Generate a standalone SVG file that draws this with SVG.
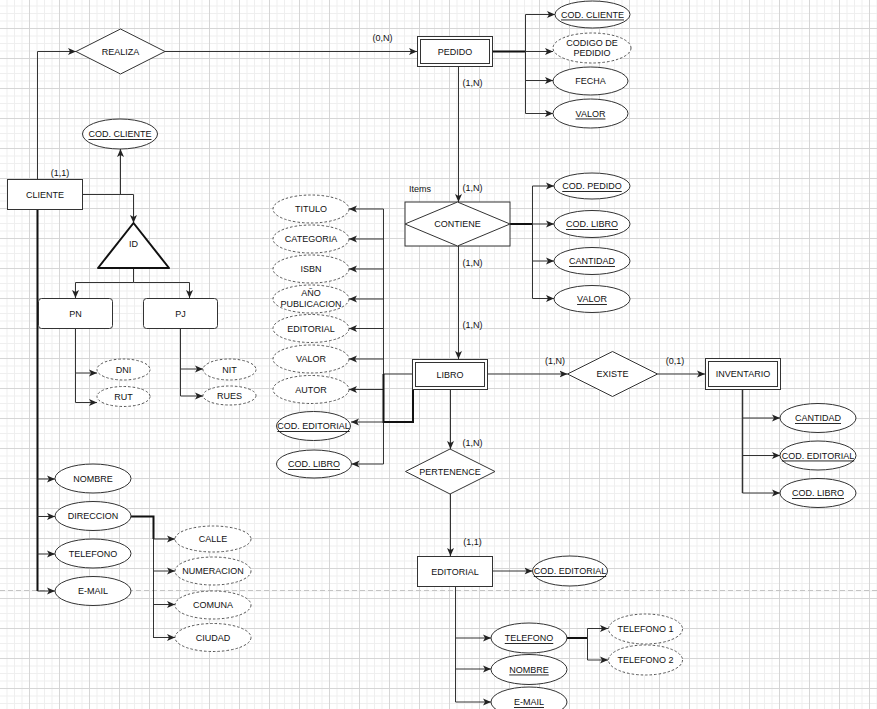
<svg xmlns="http://www.w3.org/2000/svg" width="877" height="709" viewBox="0 0 877 709">
<defs>
<pattern id="grid" x="29" y="28" width="30" height="30" patternUnits="userSpaceOnUse">
<path d="M8,0V30M15.5,0V30M23,0V30M0,8H30M0,15.5H30M0,23H30" stroke="#efefef" stroke-width="1" fill="none"/>
<path d="M0.5,0V30M0,0.5H30" stroke="#d6d6d6" stroke-width="1" fill="none"/>
</pattern>
<marker id="arr" markerUnits="userSpaceOnUse" markerWidth="9" markerHeight="8" refX="8" refY="4" orient="auto">
<path d="M0,0.5 L8,4 L0,7.5 L2,4 Z" fill="#222"/>
</marker>
<style>
text{font-family:"Liberation Sans",Arial,sans-serif;font-size:9px;fill:#111;text-anchor:middle;dominant-baseline:central}
.u{text-decoration:underline}
.sh{fill:#fff;stroke:#333;stroke-width:1}
.dsh{fill:#fff;stroke:#555;stroke-width:1;stroke-dasharray:2.5 2}
.ln{fill:none;stroke:#333;stroke-width:1}
.th{fill:none;stroke:#111;stroke-width:2}
.a{marker-end:url(#arr)}
.lbl{text-anchor:middle}
</style>
</defs>
<rect width="877" height="709" fill="#fff"/>
<rect width="877" height="709" fill="url(#grid)"/>
<path d="M0,590.5H877" stroke="#c4c4c4" stroke-width="1" stroke-dasharray="5 3" fill="none"/>

<g id="connectors">
<path class="ln a" d="M37.5,179.5V51.5H76"/>
<path class="ln a" d="M165,51.5H417"/>
<path class="ln a" d="M82.5,194.5H120.5V149"/>
<path class="ln a" d="M82.5,194.5H133.5V223"/>
<path class="ln a" d="M133.5,268V282.5H75.5V298"/>
<path class="ln a" d="M133.5,282.5H189.5V298"/>
<path class="ln a" d="M75.5,328.5V373H97"/>
<path class="ln a" d="M75.5,373V402.5H97"/>
<path class="ln a" d="M180.5,328.5V369H203"/>
<path class="ln a" d="M180.5,369V396H203"/>
<path class="th" d="M37.5,209.5V591"/>
<path class="ln a" d="M37.5,479H55"/>
<path class="ln a" d="M37.5,516.5H55"/>
<path class="ln a" d="M37.5,554H55"/>
<path class="ln a" d="M37.5,591H55"/>
<path class="th" d="M131,516.5H153.5V539"/>
<path class="ln" d="M153.5,539V638"/>
<path class="ln a" d="M153.5,539H175"/>
<path class="ln a" d="M153.5,571H175"/>
<path class="ln a" d="M153.5,604.5H175"/>
<path class="ln a" d="M153.5,637.5H175"/>
<path class="th" d="M492.5,51.5H525.5"/>
<path class="ln" d="M525.5,14.5V113.5"/>
<path class="ln a" d="M525.5,14.5H555"/>
<path class="ln a" d="M525.5,51.5H553"/>
<path class="ln a" d="M525.5,80.5H553"/>
<path class="ln a" d="M525.5,113.5H553"/>
<path class="ln a" d="M458.5,67V202"/>
<path class="th" d="M510,224H532.5"/>
<path class="ln" d="M532.5,186V298.5"/>
<path class="ln a" d="M532.5,186H554"/>
<path class="ln a" d="M532.5,224H554"/>
<path class="ln a" d="M532.5,261H554"/>
<path class="ln a" d="M532.5,298.5H554"/>
<path class="ln a" d="M458.5,246V359"/>
<path class="ln" d="M412,374H383.5"/>
<path class="ln" d="M383.5,209V464"/>
<path class="ln a" d="M383.5,209H349"/>
<path class="ln a" d="M383.5,239H349"/>
<path class="ln a" d="M383.5,269H349"/>
<path class="ln a" d="M383.5,299H349"/>
<path class="ln a" d="M383.5,328.5H349"/>
<path class="ln a" d="M383.5,359H349"/>
<path class="ln a" d="M383.5,389.5H349"/>
<path class="th" d="M413,389V422H383.5V374"/>
<path class="ln a" d="M383.5,422H351"/>
<path class="ln a" d="M383.5,464H351.5"/>
<path class="ln a" d="M488,374H567.5"/>
<path class="ln a" d="M657.5,374H705"/>
<path class="ln" d="M742.5,389.5V493" style="stroke-width:1.5"/>
<path class="ln a" d="M742.5,418H780"/>
<path class="ln a" d="M742.5,455.5H780"/>
<path class="ln a" d="M742.5,493H780"/>
<path class="ln a" d="M450.5,389.5V449"/>
<path class="ln a" d="M450.5,494V556"/>
<path class="ln a" d="M492.5,571H532.5"/>
<path class="ln" d="M455.5,586.5V702"/>
<path class="ln a" d="M455.5,638H491"/>
<path class="ln a" d="M455.5,669H491"/>
<path class="ln a" d="M455.5,702H491"/>
<path class="th" d="M567,638H587.5"/>
<path class="ln" d="M587.5,628.5V660"/>
<path class="ln a" d="M587.5,628.5H608"/>
<path class="ln a" d="M587.5,660H608"/>
<text x="382.5" y="38">(0,N)</text>
<text x="60" y="173">(1,1)</text>
<text x="472.5" y="83">(1,N)</text>
<text x="420" y="189">Items</text>
<text x="472.5" y="188">(1,N)</text>
<text x="472.5" y="263">(1,N)</text>
<text x="472.5" y="325">(1,N)</text>
<text x="555" y="361">(1,N)</text>
<text x="675" y="361">(0,1)</text>
<text x="472.5" y="443">(1,N)</text>
<text x="472.5" y="542">(1,1)</text>
</g>

<g id="realiza"><polygon class="sh" points="76,51.5 120.5,29 165,51.5 120.5,74"/><text x="120.5" y="51.5">REALIZA</text></g>
<g id="pedido"><rect class="sh" x="417.5" y="36.5" width="75" height="30"/><rect class="sh" x="420.5" y="39.5" width="69" height="24"/><text x="455" y="51.5">PEDIDO</text></g>
<g id="cliente"><rect class="sh" x="7.5" y="179.5" width="75" height="30"/><text x="45" y="194.5">CLIENTE</text></g>
<g id="cliente-cod"><ellipse class="sh" cx="120" cy="134" rx="37.5" ry="15"/><text class="u" x="120" y="134">COD. CLIENTE</text></g>
<g id="id"><path d="M133.5,223L169,268H98Z" fill="#fff" stroke="#111" stroke-width="2" stroke-linejoin="round"/><text x="133.5" y="244">ID</text></g>
<g id="pn"><rect class="sh" x="38.5" y="298.5" width="74" height="30" rx="3"/><text x="75.5" y="313.5">PN</text></g>
<g id="pj"><rect class="sh" x="143.5" y="298.5" width="74" height="30" rx="3"/><text x="180.5" y="313.5">PJ</text></g>
<g id="dni"><ellipse class="dsh" cx="123.5" cy="369.5" rx="26.5" ry="10.5"/><text x="123.5" y="369.5">DNI</text></g>
<g id="rut"><ellipse class="dsh" cx="123.5" cy="396.5" rx="26.5" ry="10"/><text x="123.5" y="396.5">RUT</text></g>
<g id="nit"><ellipse class="dsh" cx="229.5" cy="369.5" rx="26.5" ry="10.5"/><text x="229.5" y="369.5">NIT</text></g>
<g id="rues"><ellipse class="dsh" cx="229.5" cy="395.5" rx="26.5" ry="9.5"/><text x="229.5" y="395.5">RUES</text></g>
<g id="cli-nombre"><ellipse class="sh" cx="93" cy="478.5" rx="38" ry="14.5"/><text x="93" y="478.5">NOMBRE</text></g>
<g id="cli-direccion"><ellipse class="sh" cx="93" cy="516" rx="38" ry="14.5"/><text x="93" y="516">DIRECCION</text></g>
<g id="cli-telefono"><ellipse class="sh" cx="93" cy="553.5" rx="38" ry="14.5"/><text x="93" y="553.5">TELEFONO</text></g>
<g id="cli-email"><ellipse class="sh" cx="93" cy="591" rx="38" ry="14.5"/><text x="93" y="591">E-MAIL</text></g>
<g id="calle"><ellipse class="dsh" cx="213" cy="539" rx="38" ry="13"/><text x="213" y="539">CALLE</text></g>
<g id="numeracion"><ellipse class="dsh" cx="213" cy="571" rx="38" ry="14"/><text x="213" y="571">NUMERACION</text></g>
<g id="comuna"><ellipse class="dsh" cx="213" cy="605" rx="38" ry="14"/><text x="213" y="605">COMUNA</text></g>
<g id="ciudad"><ellipse class="dsh" cx="213" cy="637.5" rx="38" ry="14"/><text x="213" y="637.5">CIUDAD</text></g>
<g id="ped-codcliente"><ellipse class="sh" cx="592.5" cy="14.5" rx="37.5" ry="13.5"/><text class="u" x="592.5" y="14.5">COD. CLIENTE</text></g>
<g id="ped-codigo"><ellipse class="dsh" cx="592" cy="48" rx="39" ry="15"/><text x="592" y="42.5">CODIGO DE</text><text x="592" y="53">PEDIDIO</text></g>
<g id="ped-fecha"><ellipse class="sh" cx="590.5" cy="81" rx="37.5" ry="14"/><text x="590.5" y="81">FECHA</text></g>
<g id="ped-valor"><ellipse class="sh" cx="590.5" cy="113.5" rx="37.5" ry="14.5"/><text class="u" x="590.5" y="113.5">VALOR</text></g>
<g id="contiene"><rect class="sh" x="405" y="202" width="105" height="44"/><polygon class="sh" points="405,224 457.5,202 510,224 457.5,246"/><text x="457.5" y="224">CONTIENE</text></g>
<g id="con-codpedido"><ellipse class="sh" cx="592" cy="186" rx="38" ry="13"/><text class="u" x="592" y="186">COD. PEDIDO</text></g>
<g id="con-codlibro"><ellipse class="sh" cx="592" cy="224" rx="38" ry="13.5"/><text class="u" x="592" y="224">COD. LIBRO</text></g>
<g id="con-cantidad"><ellipse class="sh" cx="592" cy="261" rx="38" ry="13.5"/><text class="u" x="592" y="261">CANTIDAD</text></g>
<g id="con-valor"><ellipse class="sh" cx="592" cy="299" rx="38" ry="13.5"/><text class="u" x="592" y="299">VALOR</text></g>
<g id="libro"><rect class="sh" x="412.5" y="359.5" width="75" height="30"/><rect class="sh" x="415.5" y="362.5" width="69" height="24"/><text x="450" y="374.5">LIBRO</text></g>
<g id="lib-titulo"><ellipse class="dsh" cx="311" cy="209" rx="38" ry="14"/><text x="311" y="209">TITULO</text></g>
<g id="lib-categoria"><ellipse class="dsh" cx="311" cy="239" rx="38" ry="14"/><text x="311" y="239">CATEGORIA</text></g>
<g id="lib-isbn"><ellipse class="dsh" cx="311" cy="269" rx="38" ry="14"/><text x="311" y="269">ISBN</text></g>
<g id="lib-anio"><ellipse class="dsh" cx="311" cy="299" rx="38" ry="14"/><text x="311" y="292.5">AÑO</text><text x="311" y="303.5">PUBLICACION</text></g>
<g id="lib-editorial"><ellipse class="dsh" cx="311" cy="328.5" rx="38" ry="14"/><text x="311" y="328.5">EDITORIAL</text></g>
<g id="lib-valor"><ellipse class="dsh" cx="311" cy="359" rx="38" ry="14"/><text x="311" y="359">VALOR</text></g>
<g id="lib-autor"><ellipse class="dsh" cx="311" cy="389.5" rx="38" ry="14"/><text x="311" y="389.5">AUTOR</text></g>
<g id="lib-codeditorial"><ellipse class="sh" cx="313.5" cy="426" rx="37" ry="14.5"/><text class="u" x="313.5" y="426">COD. EDITORIAL</text></g>
<g id="lib-codlibro"><ellipse class="sh" cx="314" cy="464" rx="37.5" ry="14"/><text class="u" x="314" y="464">COD. LIBRO</text></g>
<g id="existe"><polygon class="sh" points="567.5,374 612.5,351.5 657.5,374 612.5,396.5"/><text x="612.5" y="374">EXISTE</text></g>
<g id="inventario"><rect class="sh" x="705.5" y="358.5" width="75" height="31"/><rect class="sh" x="708.5" y="361.5" width="69" height="25"/><text x="743" y="374">INVENTARIO</text></g>
<g id="inv-cantidad"><ellipse class="sh" cx="818" cy="418" rx="38" ry="14.5"/><text class="u" x="818" y="418">CANTIDAD</text></g>
<g id="inv-codeditorial"><ellipse class="sh" cx="818" cy="455.5" rx="38" ry="14.5"/><text class="u" x="818" y="455.5">COD. EDITORIAL</text></g>
<g id="inv-codlibro"><ellipse class="sh" cx="818" cy="493" rx="38" ry="14.5"/><text class="u" x="818" y="493">COD. LIBRO</text></g>
<g id="pertenence"><polygon class="sh" points="405.5,471.5 450,449 495,471.5 450,494"/><text x="450" y="471.5">PERTENENCE</text></g>
<g id="editorial"><rect class="sh" x="417.5" y="556.5" width="75" height="30"/><text x="455" y="571.5">EDITORIAL</text></g>
<g id="ed-codeditorial"><ellipse class="sh" cx="570" cy="571" rx="37.5" ry="15"/><text class="u" x="570" y="571">COD. EDITORIAL</text></g>
<g id="ed-telefono"><ellipse class="sh" cx="529" cy="638" rx="38" ry="15"/><text class="u" x="529" y="638">TELEFONO</text></g>
<g id="ed-nombre"><ellipse class="sh" cx="529" cy="669.5" rx="38" ry="15"/><text class="u" x="529" y="669.5">NOMBRE</text></g>
<g id="ed-email"><ellipse class="sh" cx="529" cy="702" rx="38" ry="15"/><text class="u" x="529" y="702">E-MAIL</text></g>
<g id="telefono1"><ellipse class="dsh" cx="645.5" cy="629" rx="37" ry="15"/><text x="645.5" y="629">TELEFONO 1</text></g>
<g id="telefono2"><ellipse class="dsh" cx="645.5" cy="660" rx="37" ry="15"/><text x="645.5" y="660">TELEFONO 2</text></g>
</svg>
